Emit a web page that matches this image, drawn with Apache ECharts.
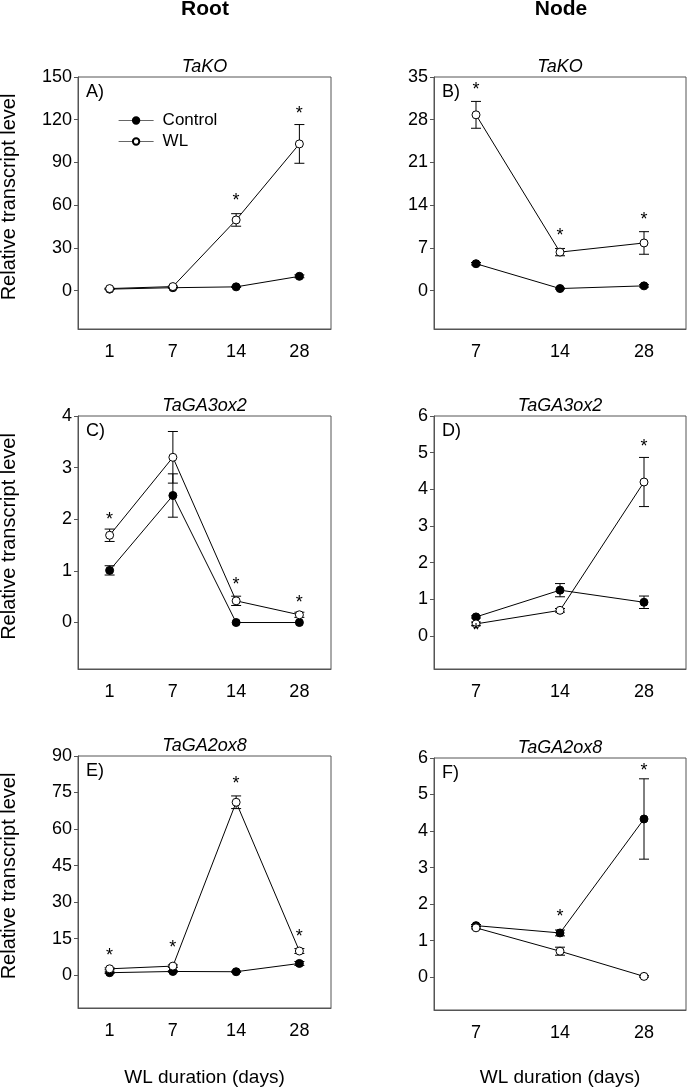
<!DOCTYPE html>
<html><head><meta charset="utf-8">
<script src="https://cdn.jsdelivr.net/npm/echarts@6/dist/echarts.min.js"></script>
<style>html,body{margin:0;padding:0;background:#fff}#c{width:687px;height:1092px}</style>
</head><body><div id="c"></div>
<script>
// ---- categories (days) ----
const rootDays = ['1', '7', '14', '28'];
const nodeDays = ['7', '14', '28'];

// ---- Panel A: TaKO, root ----
const aControl    = [1.0, 2.0, 2.6, 10.0];
const aControlErr = [0.3, 0.3, 0.4, 1.0];
const aWL         = [1.4, 2.8, 49.6, 103.0];
const aWLErr      = [0.3, 0.4, 4.4, 13.6];
const aStar       = [null, null, 66, 127];

// ---- Panel B: TaKO, node ----
const bControl    = [4.4, 0.33, 0.77];
const bControlErr = [0.2, 0.1, 0.2];
const bWL         = [28.8, 6.3, 7.8];
const bWLErr      = [2.2, 0.6, 1.85];
const bStar       = [33.5, 9.6, 12.2];

// ---- Panel C: TaGA3ox2, root ----
const cControl    = [1.01, 2.46, 0.0, 0.0];
const cControlErr = [0.09, 0.42, 0.0, 0.0];
const cWL         = [1.69, 3.2, 0.42, 0.15];
const cWLErr      = [0.12, 0.5, 0.09, 0.05];
const cStar       = [2.06, null, 0.81, 0.45];

// ---- Panel D: TaGA3ox2, node ----
const dControl    = [0.52, 1.25, 0.92];
const dControlErr = [0.03, 0.18, 0.17];
const dWL         = [0.33, 0.70, 4.2];
const dWLErr      = [0.05, 0.05, 0.67];
const dStar       = [0.25, null, 5.27];

// ---- Panel E: TaGA2ox8, root ----
const eControl    = [1.0, 1.5, 1.4, 4.8];
const eControlErr = [0.3, 0.3, 0.3, 0.8];
const eWL         = [2.6, 3.7, 71.0, 9.9];
const eWLErr      = [0.4, 0.5, 2.6, 1.0];
const eStar       = [9.6, 12.7, 80.1, 17.2];

// ---- Panel F: TaGA2ox8, node ----
const fControl    = [1.41, 1.21, 4.33];
const fControlErr = [0.03, 0.08, 1.1];
const fWL         = [1.35, 0.71, 0.02];
const fWLErr      = [0.03, 0.11, 0.02];
const fStar       = [null, 1.76, 5.75];

// ---- y-axis tick settings ----
const yMax  = [150, 35, 4, 6, 90, 6];
const yStep = [30, 7, 1, 1, 15, 1];

const geneTitles = ['TaKO', 'TaKO', 'TaGA3ox2', 'TaGA3ox2', 'TaGA2ox8', 'TaGA2ox8'];
const panelLetters = ['A)', 'B)', 'C)', 'D)', 'E)', 'F)'];
const columnHeaders = ['Root', 'Node'];
const yTitle = 'Relative transcript level';
const xTitle = 'WL duration (days)';

const FONT = '"Liberation Sans", Arial, Helvetica, sans-serif';
const AX = '#555';

const grids = [
  {left: 78,  top: 77,  width: 253, height: 252},
  {left: 434, top: 77,  width: 252, height: 252},
  {left: 78,  top: 416, width: 253, height: 253},
  {left: 434, top: 416, width: 252, height: 253},
  {left: 78,  top: 756, width: 253, height: 252},
  {left: 434, top: 758, width: 252, height: 252}
];

const panels = [
  [rootDays, aControl, aControlErr, aWL, aWLErr, aStar],
  [nodeDays, bControl, bControlErr, bWL, bWLErr, bStar],
  [rootDays, cControl, cControlErr, cWL, cWLErr, cStar],
  [nodeDays, dControl, dControlErr, dWL, dWLErr, dStar],
  [rootDays, eControl, eControlErr, eWL, eWLErr, eStar],
  [nodeDays, fControl, fControlErr, fWL, fWLErr, fStar]
];

const gridOpt = [], xAxes = [], yAxes = [], series = [], graphics = [];

function errRender(params, api) {
  const x = api.value(0), m = api.value(1), e = api.value(2);
  if (!(e > 0)) return null;
  const hi = api.coord([x, m + e]);
  const lo = api.coord([x, m - e]);
  const cx = hi[0], w = 5;
  const st = {stroke: '#000', lineWidth: 1};
  return {type: 'group', children: [
    {type: 'line', shape: {x1: cx, y1: hi[1], x2: cx, y2: lo[1]}, style: st},
    {type: 'line', shape: {x1: cx - w, y1: hi[1], x2: cx + w, y2: hi[1]}, style: st},
    {type: 'line', shape: {x1: cx - w, y1: lo[1], x2: cx + w, y2: lo[1]}, style: st}
  ]};
}
function starRender(params, api) {
  const p = api.coord([api.value(0), api.value(1)]);
  return {type: 'text', style: {text: '*', x: p[0], y: p[1] + 4, textAlign: 'center',
    textVerticalAlign: 'middle', font: '18px ' + FONT, fill: '#000'}};
}

panels.forEach((p, i) => {
  const [cats, ctrl, ctrlErr, wl, wlErr, star] = p;
  const g = grids[i];
  gridOpt.push(Object.assign({show: true, borderColor: AX, borderWidth: 1, backgroundColor: 'transparent'}, g));
  xAxes.push({
    type: 'category', gridIndex: i, data: cats, boundaryGap: true,
    axisLine: {onZero: false, lineStyle: {color: AX, width: 1}},
    axisTick: {alignWithLabel: true, length: 4, lineStyle: {color: AX}},
    axisLabel: {fontFamily: FONT, fontSize: 18, color: '#000', margin: 14},
    splitLine: {show: false}
  });
  const ticks = [];
  for (let v = 0; v <= yMax[i] + 1e-9; v += yStep[i]) ticks.push(+v.toFixed(6));
  yAxes.push({
    type: 'value', gridIndex: i, min: -0.9 * yStep[i], max: yMax[i],
    axisLine: {show: true, onZero: false, lineStyle: {color: AX, width: 1}},
    axisTick: {show: true, length: 4, lineStyle: {color: AX}, customValues: ticks},
    axisLabel: {fontFamily: FONT, fontSize: 18, color: '#000', margin: 6, customValues: ticks},
    splitLine: {show: false}
  });
  series.push({
    type: 'custom', xAxisIndex: i, yAxisIndex: i, renderItem: errRender, z: 1, silent: true,
    data: ctrl.map((v, k) => [k, v, ctrlErr[k]])
  });
  series.push({
    type: 'custom', xAxisIndex: i, yAxisIndex: i, renderItem: errRender, z: 1, silent: true,
    data: wl.map((v, k) => [k, v, wlErr[k]])
  });
  series.push({
    name: 'Control', type: 'line', xAxisIndex: i, yAxisIndex: i, data: ctrl,
    symbol: 'circle', symbolSize: 8, z: 3,
    itemStyle: {color: '#000', borderColor: '#000', borderWidth: 1},
    lineStyle: {color: '#000', width: 1}
  });
  series.push({
    name: 'WL', type: 'line', xAxisIndex: i, yAxisIndex: i, data: wl,
    symbol: 'circle', symbolSize: 8, z: 4,
    itemStyle: {color: '#fff', borderColor: '#000', borderWidth: 1},
    lineStyle: {color: '#000', width: 1}
  });
  series.push({
    type: 'custom', xAxisIndex: i, yAxisIndex: i, renderItem: starRender, z: 5, silent: true,
    data: star.map((v, k) => v == null ? null : [k, v]).filter(d => d)
  });
  // panel title (gene, italic)
  graphics.push({type: 'text', style: {text: geneTitles[i], x: g.left + g.width / 2, y: g.top - 10,
    textAlign: 'center', textVerticalAlign: 'middle', font: 'italic 18px ' + FONT, fill: '#000'}});
  // panel letter
  graphics.push({type: 'text', style: {text: panelLetters[i], x: g.left + 8, y: g.top + 15,
    textAlign: 'left', textVerticalAlign: 'middle', font: '18px ' + FONT, fill: '#000'}});
  if (i % 2 === 0) {
    graphics.push({type: 'text', rotation: Math.PI / 2, x: 9, y: g.top + g.height / 2 - 6,
      style: {text: yTitle, x: 0, y: 0, textAlign: 'center', textVerticalAlign: 'middle',
        font: '20px ' + FONT, fill: '#000'}});
  }
  if (i >= 4) {
    graphics.push({type: 'text', style: {text: xTitle, x: g.left + g.width / 2, y: 1078,
      textAlign: 'center', textVerticalAlign: 'middle', font: '19px ' + FONT, fill: '#000'}});
  }
});

graphics.push({type: 'text', style: {text: columnHeaders[0], x: 205, y: 9, textAlign: 'center',
  textVerticalAlign: 'middle', font: 'bold 21px ' + FONT, fill: '#000'}});
graphics.push({type: 'text', style: {text: columnHeaders[1], x: 561, y: 9, textAlign: 'center',
  textVerticalAlign: 'middle', font: 'bold 21px ' + FONT, fill: '#000'}});

const chart = echarts.init(document.getElementById('c'), null, {renderer: 'canvas'});
chart.setOption({
  animation: false,
  backgroundColor: '#fff',
  grid: gridOpt,
  xAxis: xAxes,
  yAxis: yAxes,
  legend: {
    data: ['Control', 'WL'], orient: 'vertical', left: 113, top: 107,
    itemWidth: 35, itemHeight: 8, itemGap: 4,
    lineStyle: {color: '#666', width: 1.2},
    textStyle: {fontFamily: FONT, fontSize: 17, color: '#000', padding: [0, 0, 0, 4]}
  },
  series: series,
  graphic: graphics
});
</script></body></html>
